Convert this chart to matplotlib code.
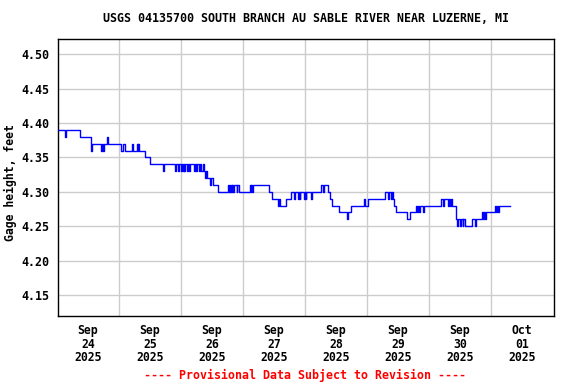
import matplotlib
matplotlib.use("Agg")
import matplotlib.pyplot as plt
import matplotlib.dates as mdates
import numpy as np
import pandas as pd

# Step series: hours relative to 2025-09-24 00:00 and gage height (ft)
hours = [-11.5, -8.7, -8.45, -3.1, 1.2, 1.45, 5.0, 5.25, 5.8, 6.05, 7.4, 7.65,
         12.8, 13.5, 14.3, 17.2, 17.45, 19.0, 19.25, 19.5, 19.75, 22.1, 24.0,
         29.0, 29.25, 33.7, 33.95, 34.8, 35.05, 36.2, 36.45, 36.8, 37.05, 37.2, 37.45,
         38.3, 38.55, 39.1, 39.35, 41.0, 41.25, 41.8, 42.05, 43.0, 43.25,
         43.7, 44.5, 44.75, 45.3, 45.6, 46.1, 47.2, 47.45, 48.4, 50.3,
         54.2, 54.45, 54.8, 55.05, 55.4, 55.65, 55.9, 56.15, 56.5, 57.5, 57.75, 58.5,
         62.7, 62.95, 63.3, 63.55, 63.9, 70.1, 71.2, 73.5, 74.0, 74.3, 76.5,
         78.6, 79.9, 80.15, 81.3, 81.55, 82.0, 82.25, 83.6, 83.85, 84.3, 84.55, 86.3, 86.55,
         90.2, 91.0, 91.4, 92.9, 93.7, 94.5, 97.1, 100.3, 100.8, 101.8,
         107.0, 107.25, 108.5, 115.0, 116.1, 116.35, 117.3, 117.55, 118.1, 118.6, 119.4,
         123.5, 124.5, 127.1, 127.35, 127.7, 128.2, 128.7, 129.5, 130.1,
         136.6, 137.6, 137.9, 139.4, 139.7, 140.3, 140.6, 141.0, 142.3, 142.6, 143.0,
         143.3, 144.0, 144.3, 145.0, 145.3, 146.0, 148.6, 149.8, 150.1, 152.5, 152.8,
         153.3, 153.6, 154.0, 157.5, 157.8, 158.3, 158.6, 159.1, 163.4]
heights = [4.39, 4.38, 4.39, 4.38, 4.36, 4.37, 4.36, 4.37, 4.36, 4.37, 4.38, 4.37,
           4.36, 4.37, 4.36, 4.37, 4.36, 4.37, 4.36, 4.37, 4.36, 4.35, 4.34,
           4.33, 4.34, 4.33, 4.34, 4.33, 4.34, 4.33, 4.34, 4.33, 4.34, 4.33, 4.34,
           4.33, 4.34, 4.33, 4.34, 4.33, 4.34, 4.33, 4.34, 4.33, 4.34,
           4.33, 4.34, 4.33, 4.32, 4.33, 4.32, 4.31, 4.32, 4.31, 4.30,
           4.31, 4.30, 4.31, 4.30, 4.31, 4.30, 4.31, 4.30, 4.31, 4.30, 4.31, 4.30,
           4.31, 4.30, 4.31, 4.30, 4.31, 4.30, 4.29, 4.28, 4.29, 4.28, 4.29,
           4.30, 4.29, 4.30, 4.29, 4.30, 4.29, 4.30, 4.29, 4.30, 4.29, 4.30, 4.29, 4.30,
           4.31, 4.30, 4.31, 4.30, 4.29, 4.28, 4.27, 4.26, 4.27, 4.28,
           4.29, 4.28, 4.29, 4.30, 4.29, 4.30, 4.29, 4.30, 4.29, 4.28, 4.27,
           4.26, 4.27, 4.28, 4.27, 4.28, 4.27, 4.28, 4.27, 4.28,
           4.29, 4.28, 4.29, 4.28, 4.29, 4.28, 4.29, 4.28, 4.27, 4.26, 4.25,
           4.26, 4.25, 4.26, 4.25, 4.26, 4.25, 4.26, 4.25, 4.26, 4.27, 4.26,
           4.27, 4.26, 4.27, 4.28, 4.27, 4.28, 4.27, 4.28, 4.28]

day_labels = ["Sep\n24\n2025", "Sep\n25\n2025", "Sep\n26\n2025", "Sep\n27\n2025",
              "Sep\n28\n2025", "Sep\n29\n2025", "Sep\n30\n2025", "Oct\n01\n2025"]
y_ticks = [4.15, 4.20, 4.25, 4.30, 4.35, 4.40, 4.45, 4.50]

title = "USGS 04135700 SOUTH BRANCH AU SABLE RIVER NEAR LUZERNE, MI"
ylabel = "Gage height, feet"
footer = "---- Provisional Data Subject to Revision ----"

base = pd.Timestamp("2025-09-24 00:00")
times = [base + pd.Timedelta(hours=h) for h in hours]
day_ticks = [base + pd.Timedelta(days=d) for d in range(len(day_labels))]
grid_ticks = [base + pd.Timedelta(hours=12 + 24 * d) for d in range(7)]

mono = "DejaVu Sans Mono"
fig = plt.figure(figsize=(5.76, 3.84), dpi=100)
ax = fig.add_axes([58 / 576, 68 / 384, 496 / 576, 277 / 384])

ax.step(times, heights, where="post", color="#0000ff", linewidth=1.0, zorder=3)

ax.set_xlim(base - pd.Timedelta(hours=11.6), base + pd.Timedelta(hours=180.4))
ax.set_ylim(4.1195, 4.5222)

ax.set_xticks(day_ticks)
ax.set_xticklabels(day_labels, fontfamily=mono, fontweight="bold", fontsize=8.3,
                   linespacing=1.05)
ax.set_xticks(grid_ticks, minor=True)
ax.tick_params(axis="x", which="major", length=0, pad=6)
ax.tick_params(axis="x", which="minor", length=0)
ax.xaxis.grid(True, which="minor", color="#cccccc", linewidth=1.0)
ax.xaxis.grid(False, which="major")

ax.set_yticks(y_ticks)
ax.set_yticklabels([f"{v:.2f}" for v in y_ticks], fontfamily=mono,
                   fontweight="bold", fontsize=8.4)
ax.tick_params(axis="y", length=0, pad=6)
ax.yaxis.grid(True, color="#cccccc", linewidth=1.0)
ax.set_axisbelow(True)

for s in ax.spines.values():
    s.set_color("black")
    s.set_linewidth(1.0)

ax.set_ylabel(ylabel, fontfamily=mono, fontweight="bold", fontsize=8.3)
ax.yaxis.set_label_coords((17 - 58) / 496, (316 - 183) / 277)

fig.text(306 / 576, 1 - 19 / 384, title, ha="center", va="center",
         fontfamily=mono, fontweight="bold", fontsize=8.38)
fig.text(305 / 576, 1 - 375 / 384, footer, ha="center", va="center",
         fontfamily=mono, fontweight="bold", fontsize=8.38, color="#ff0000")

fig.savefig("out.png", dpi=100)
